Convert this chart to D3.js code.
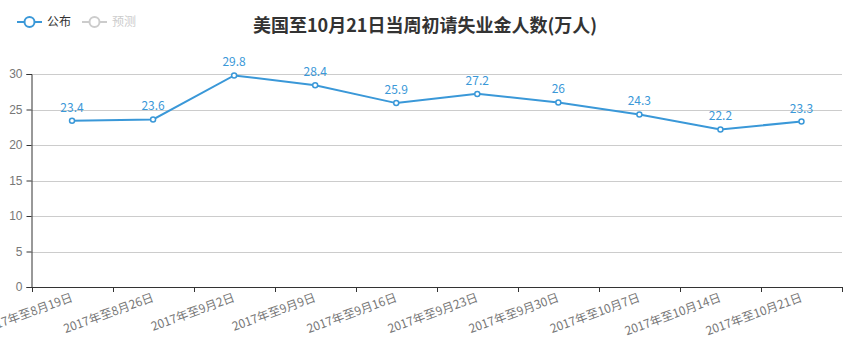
<!DOCTYPE html>
<html>
<head>
<meta charset="utf-8">
<script src="https://cdn.jsdelivr.net/npm/d3@7/dist/d3.min.js"></script>
<style>
  body { margin: 0; background: #fff; }
  svg { font-family: "Noto Sans CJK SC", "Noto Sans", sans-serif; }
</style>
</head>
<body>
<svg id="chart"></svg>
<script>
const weeks = ["2017年至8月19日", "2017年至8月26日", "2017年至9月2日", "2017年至9月9日", "2017年至9月16日",
  "2017年至9月23日", "2017年至9月30日", "2017年至10月7日", "2017年至10月14日", "2017年至10月21日"];
const published = [23.4, 23.6, 29.8, 28.4, 25.9, 27.2, 26, 24.3, 22.2, 23.3];
const yTicks = [0, 5, 10, 15, 20, 25, 30];

const w = 856, h = 363;
const plotL = 31.5, plotR = 842, plotT = 74, plotB = 287;
const blue = "#3a98d8";

const svg = d3.select("#chart").attr("width", w).attr("height", h);

const x = d3.scaleBand().domain(weeks).range([plotL, plotR]);
const y = d3.scaleLinear().domain([0, 30]).range([plotB, plotT]);

// grid
svg.append("g").selectAll("line")
  .data(yTicks.filter(d => d > 0))
  .join("line")
  .attr("x1", plotL).attr("x2", plotR)
  .attr("y1", d => Math.round(y(d)) + 0.5).attr("y2", d => Math.round(y(d)) + 0.5)
  .attr("stroke", "#ccc");

// y axis
const yAxis = svg.append("g")
  .attr("transform", `translate(${plotL},0)`)
  .call(d3.axisLeft(y).tickValues(yTicks).tickSize(5).tickPadding(4));
yAxis.select(".domain").attr("stroke", "#333");
yAxis.selectAll(".tick line").attr("stroke", "#333");
yAxis.selectAll("text").attr("fill", "#777").style("font-size", "12px");

// x axis
const xAxis = svg.append("g")
  .attr("transform", `translate(0,${plotB})`)
  .call(d3.axisBottom(x).tickSize(0).tickFormat(""));
xAxis.select(".domain").attr("stroke", "#333");

// tick marks at band boundaries
const bounds = weeks.map(d => x(d)).concat([plotR]);
svg.append("g").selectAll("line")
  .data(bounds)
  .join("line")
  .attr("x1", d => Math.round(d) + 0.5).attr("x2", d => Math.round(d) + 0.5)
  .attr("y1", plotB).attr("y2", plotB + 5)
  .attr("stroke", "#333");

// rotated x labels (first one runs off the left edge, as in the original)
svg.append("g").selectAll("text")
  .data(weeks)
  .join("text")
  .attr("transform", d => `translate(${x(d) + x.bandwidth() / 2},${plotB + 10}) rotate(-20)`)
  .attr("text-anchor", "end")
  .attr("dy", "0.35em")
  .attr("fill", "#777")
  .style("font-size", "12px")
  .text(d => d);

// line
const line = d3.line()
  .x((d, i) => x(weeks[i]) + x.bandwidth() / 2)
  .y(d => y(d));

svg.append("path")
  .datum(published)
  .attr("d", line)
  .attr("fill", "none")
  .attr("stroke", blue)
  .attr("stroke-width", 2);

svg.append("g").selectAll("circle")
  .data(published)
  .join("circle")
  .attr("cx", (d, i) => x(weeks[i]) + x.bandwidth() / 2)
  .attr("cy", d => y(d))
  .attr("r", 2.5)
  .attr("fill", "#fff")
  .attr("stroke", blue)
  .attr("stroke-width", 1.5);

svg.append("g").selectAll("text")
  .data(published)
  .join("text")
  .attr("x", (d, i) => x(weeks[i]) + x.bandwidth() / 2)
  .attr("y", d => y(d) - 9)
  .attr("text-anchor", "middle")
  .attr("fill", blue)
  .style("font-size", "12px")
  .text(d => d);

// title
svg.append("text")
  .attr("x", 425).attr("y", 32)
  .attr("text-anchor", "middle")
  .attr("fill", "#333")
  .style("font-size", "18px")
  .style("font-weight", "bold")
  .text("美国至10月21日当周初请失业金人数(万人)");

// legend
const legend = [
  { name: "公布", color: blue, text: "#333" },
  { name: "预测", color: "#ccc", text: "#ccc" }
];
const lg = svg.append("g").selectAll("g")
  .data(legend)
  .join("g")
  .attr("transform", (d, i) => `translate(${17 + i * 65},22)`);
lg.append("line").attr("x1", 0).attr("x2", 25).attr("stroke", d => d.color).attr("stroke-width", 2);
lg.append("circle").attr("cx", 12.5).attr("r", 5).attr("fill", "#fff").attr("stroke", d => d.color).attr("stroke-width", 2);
lg.append("text").attr("x", 30).attr("dy", "0.35em").attr("fill", d => d.text).style("font-size", "12px").text(d => d.name);
</script>
</body>
</html>
